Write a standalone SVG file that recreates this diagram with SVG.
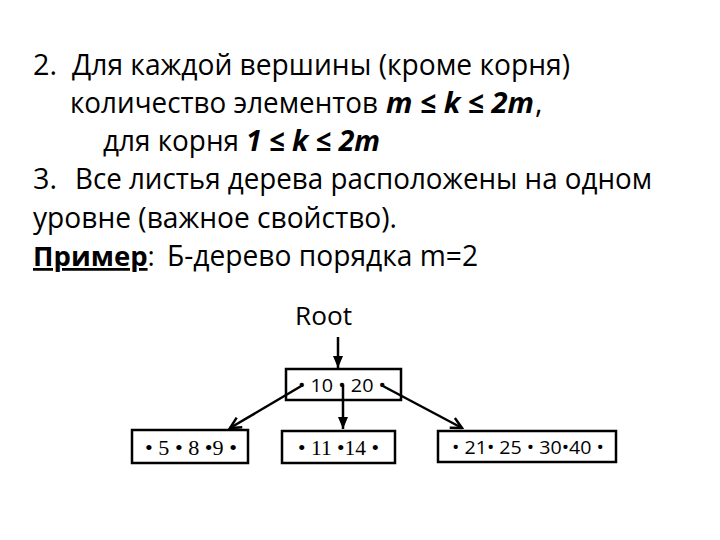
<svg xmlns="http://www.w3.org/2000/svg" width="720" height="540" viewBox="0 0 720 540">
<style>
.t{font-family:"Open Sans","Liberation Sans",sans-serif;font-size:29px;fill:#000}
.b{font-weight:bold}
.bi{font-weight:bold;font-style:italic}
.n{font-family:"Open Sans","Liberation Sans",sans-serif;font-size:19px;fill:#000}
.s{font-family:"Liberation Serif","Times New Roman",serif;font-size:20px;fill:#000}
.box{fill:#fff;stroke:#000;stroke-width:2.5}
.c{stroke:#000;stroke-width:2.5;fill:none}
</style>
<defs>
<marker id="fa" markerUnits="userSpaceOnUse" markerWidth="12" markerHeight="12" viewBox="0 0 12 12" refX="12" refY="6" orient="auto">
<path d="M0,1 L12,6 L0,11 z" fill="#000"/>
</marker>
<marker id="oa" markerUnits="userSpaceOnUse" markerWidth="14" markerHeight="14" viewBox="0 0 14 14" refX="12" refY="7" orient="auto">
<path d="M1,1.5 L12,7 L1,12.5" fill="none" stroke="#000" stroke-width="2.5"/>
</marker>
</defs>
<rect width="720" height="540" fill="#fff"/>
<g id="text">
<text class="t" x="33" y="75" textLength="24" lengthAdjust="spacingAndGlyphs">2.</text>
<text class="t" x="72" y="75" textLength="498" lengthAdjust="spacingAndGlyphs">Для каждой вершины (кроме корня)</text>
<text class="t" x="70" y="113" textLength="308" lengthAdjust="spacingAndGlyphs">количество элементов</text>
<text class="t bi" x="386" y="113" textLength="148" lengthAdjust="spacingAndGlyphs">m ≤ k ≤ 2m</text>
<text class="t" x="535" y="113">,</text>
<text class="t" x="103" y="151" textLength="136" lengthAdjust="spacingAndGlyphs">для корня</text>
<text class="t bi" x="246" y="151" textLength="134" lengthAdjust="spacingAndGlyphs">1 ≤ k ≤ 2m</text>
<text class="t" x="33" y="189" textLength="24" lengthAdjust="spacingAndGlyphs">3.</text>
<text class="t" x="75" y="189" textLength="577" lengthAdjust="spacingAndGlyphs">Все листья дерева расположены на одном</text>
<text class="t" x="33" y="228" textLength="364" lengthAdjust="spacingAndGlyphs">уровне (важное свойство).</text>
<text class="t" x="33" y="266" style="font-size:27.5px"><tspan class="b" text-decoration="underline">Пример</tspan>:</text>
<text class="t" x="167" y="266" textLength="311" lengthAdjust="spacingAndGlyphs">Б-дерево порядка m=2</text>
<text class="t" x="295" y="325" style="font-size:25px" textLength="57" lengthAdjust="spacingAndGlyphs">Root</text>
</g>
<g id="connectors">
<line class="c" x1="338" y1="337" x2="338" y2="368" marker-end="url(#fa)"/>
<line class="c" x1="303" y1="385" x2="230" y2="428" marker-end="url(#oa)"/>
<line class="c" x1="343" y1="385" x2="343" y2="429" marker-end="url(#fa)"/>
<line class="c" x1="381" y1="385" x2="462" y2="428" marker-end="url(#oa)"/>
</g>
<g id="root">
<rect class="box" x="286" y="369" width="115" height="31" style="fill:none"/>
<text class="n" x="298" y="392" textLength="88" lengthAdjust="spacingAndGlyphs">• 10 • 20 •</text>
</g>
<g id="leaf1">
<rect class="box" x="132" y="430" width="116" height="33"/>
<text class="s" x="145" y="455" textLength="92" lengthAdjust="spacingAndGlyphs">• 5 • 8 •9 •</text>
</g>
<g id="leaf2">
<rect class="box" x="282" y="431" width="113" height="32"/>
<text class="s" x="298" y="455" textLength="81" lengthAdjust="spacingAndGlyphs">• 11 •14 •</text>
</g>
<g id="leaf3">
<rect class="box" x="438" y="431" width="178" height="31"/>
<text class="n" x="452" y="454" textLength="152" lengthAdjust="spacingAndGlyphs">• 21• 25 • 30•40 •</text>
</g>
</svg>
